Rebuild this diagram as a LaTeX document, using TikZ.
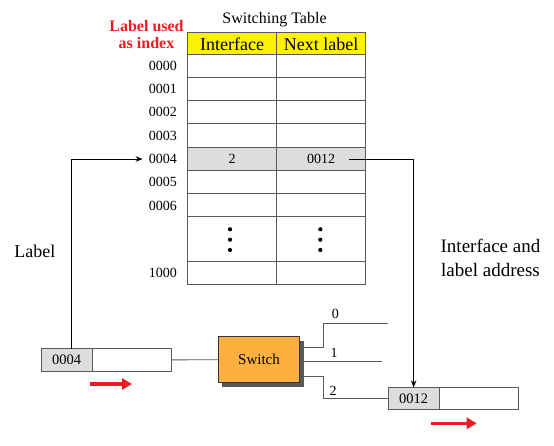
\documentclass[tikz,border=0pt]{standalone}
\usepackage{fontspec}
\setmainfont{Liberation Serif}
\usetikzlibrary{arrows.meta,shadows}
\definecolor{hdr}{RGB}{255,242,0}
\definecolor{pktgray}{RGB}{220,221,222}
\definecolor{swfill}{RGB}{251,176,64}
\definecolor{redc}{RGB}{237,28,36}
\definecolor{tline}{RGB}{88,89,91}
\newcommand\fsz[1]{\fontsize{#1pt}{#1pt}\selectfont}
\begin{document}
\begin{tikzpicture}[x=1pt,y=-1pt,
  cell/.style={draw=tline, line width=1pt, minimum width=89pt, inner sep=0pt, outer sep=0pt, font=\fsz{14}},
  rowlab/.style={inner sep=0pt, anchor=east, font=\fsz{14}},
  pcell/.style={draw=tline, line width=1pt, minimum height=22.5pt, inner sep=0pt, outer sep=0pt, font=\fsz{14.5}},
  arr/.style={-{Stealth[length=7pt,width=5.5pt]}, line width=0.9pt, black},
  conn/.style={draw=tline, line width=0.9pt},
  redarr/.style={-{Triangle[length=10pt,width=11pt]}, line width=3.2pt, redc},
  plab/.style={inner sep=0pt, font=\fsz{14}}
]
\useasboundingbox (0,0) rectangle (554,446);

% title and side labels
\node[inner sep=0pt, font=\fsz{16}] (title) at (274.5,19.3) {Switching Table};
\node[inner sep=0pt, align=center, text=redc, font=\fontsize{16pt}{17pt}\selectfont\bfseries] (idx) at (146.5,34.5) {Label used\\as index};
\node[inner sep=0pt, font=\fsz{18}] (lbl) at (34.8,251) {Label};
\node[inner sep=0pt, align=center, font=\fontsize{19pt}{24.3pt}\selectfont] (ila) at (490.5,258) {Interface and\\label address};

% header
\node[cell, fill=hdr, minimum height=22.3pt, font=\fsz{18}] (ha) at (232.2,43.85) {Interface};
\node[cell, fill=hdr, minimum height=22.3pt, font=\fsz{18}] (hb) at (321.2,43.85) {Next label};

% rows
\foreach \n/\c/\h in {0/66.15/22.3, 1/89/23.4, 2/112.35/23.3, 3/135.65/23.3, 5/182.35/23.3, 6/205.5/23, 7/239.15/44.3, 8/272.8/23} {
  \node[cell, minimum height=\h pt] (ra\n) at (232.2,\c) {};
  \node[cell, minimum height=\h pt] (rb\n) at (321.2,\c) {};
}
\node[cell, fill=pktgray, minimum height=23.4pt] (ra4) at (232.2,159) {2};
\node[cell, fill=pktgray, minimum height=23.4pt] (rb4) at (321.2,159) {0012};

\foreach \n/\c/\t in {0/66.15/0000, 1/89/0001, 2/112.35/0002, 3/135.65/0003, 4/159/0004, 5/182.35/0005, 6/205.5/0006, 8/272.8/1000} {
  \node[rowlab] (l\n) at (177,\c) {\t};
}

% dots
\foreach \d in {-9.85,0.55,10.85} {
  \fill (230,239.15+\d) circle (2.1pt);
  \fill (320.3,239.15+\d) circle (2.1pt);
}

% packets
\node[pcell, fill=pktgray, minimum width=51.3pt] (p1a) at (66.65,359.85) {0004};
\node[pcell, minimum width=79pt, anchor=west] (p1b) at (p1a.east) {};
\node[pcell, fill=pktgray, minimum width=51.3pt] (p2a) at (413.65,398.65) {0012};
\node[pcell, minimum width=79pt, anchor=west] (p2b) at (p2a.east) {};

% switch
\node[draw=black!80, line width=0.8pt, fill=swfill, minimum width=81.4pt, minimum height=46pt, inner sep=0pt, font=\fsz{15},
  drop shadow={shadow xshift=4pt, shadow yshift=-4pt, fill=black!65, opacity=1}] (sw) at (259,359.7) {Switch};

% connectors
\draw[conn] (p1b.east) -- (sw.west);
\coordinate (o0) at (387.7,323.3);
\coordinate (o1) at (381.7,361.7);
\draw[conn] ([yshift=12pt]sw.east) -- ++(23.3,0) |- (o0);
\draw[conn] ([yshift=-2pt]sw.east) -- (o1);
\draw[conn] ([yshift=-16.3pt]sw.east) -- ++(23.3,0) |- (p2a.west);
\node[plab] (n0) at (335.3,314.3) {0};
\node[plab] (n1) at (334,353.3) {1};
\node[plab] (n2) at (333,390.7) {2};

% lookup arrows
\draw[arr] ([xshift=4.35pt]p1a.north) |- ([xshift=-6pt]l4.west);
\draw[arr] ([xshift=-17pt]rb4.east) -| (p2a.north);

% red direction arrows
\draw[redarr] (90.3,384) -- (132,384);
\draw[redarr] (431,423.3) -- (476.7,423.3);
\end{tikzpicture}
\end{document}
